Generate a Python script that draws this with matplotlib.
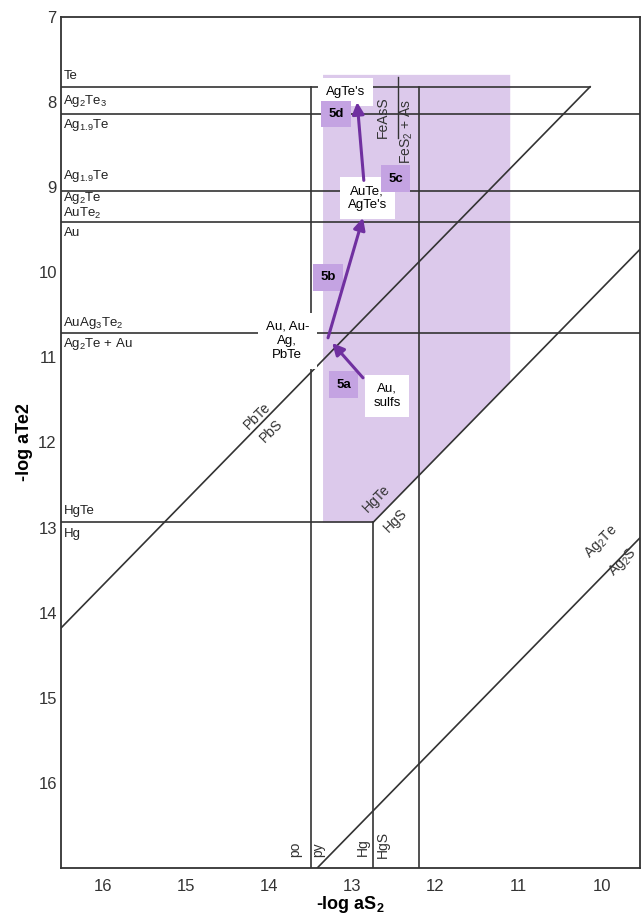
import matplotlib.pyplot as plt
from matplotlib.patches import Polygon

plt.rcParams["font.family"] = ["Liberation Sans", "DejaVu Sans"]
plt.rcParams["mathtext.default"] = "regular"

# axis extents (-log aS2 runs right to left, -log aTe2 top to bottom)
x_range = (16.5, 9.54)
y_range = (17.0, 7.0)
x_ticks = [16, 15, 14, 13, 12, 11, 10]
y_ticks = [7, 8, 9, 10, 11, 12, 13, 14, 15, 16]

# horizontal tellurium reactions: level, x start, x end
h_levels = [7.82, 8.14, 9.04, 9.405, 10.71, 12.94]
h_x0 = [16.5, 16.5, 16.5, 16.5, 16.5, 16.5]
h_x1 = [10.14, 9.54, 9.54, 9.54, 9.54, 12.75]

# vertical sulfur reactions: position, y top, y bottom
v_pos = [13.49, 12.75, 12.2]
v_y0 = [7.82, 12.94, 7.82]
v_y1 = [17.0, 17.0, 17.0]

# sloped sulfide/telluride reactions: (x0, y0) -> (x1, y1)
d_x0 = [16.5, 12.75, 13.42]
d_y0 = [14.18, 12.94, 17.0]
d_x1 = [10.14, 9.54, 9.54]
d_y1 = [7.82, 9.73, 13.12]

# left-hand phase labels
phase_labels = ["Te", "Ag$_2$Te$_3$", "Ag$_{1.9}$Te", "Ag$_{1.9}$Te", "Ag$_2$Te",
                "AuTe$_2$", "Au", "AuAg$_3$Te$_2$", "Ag$_2$Te + Au", "HgTe", "Hg"]
phase_y = [7.69, 7.99, 8.27, 8.87, 9.13, 9.31, 9.54, 10.59, 10.84, 12.81, 13.07]

# fluid evolution field
field_x = [13.35, 11.1, 11.1, 12.75, 13.35]
field_y = [7.68, 7.68, 11.29, 12.94, 12.94]

# stage arrows
stage_x0 = [12.87, 13.29, 12.86]
stage_y0 = [11.24, 10.77, 8.92]
stage_x1 = [13.24, 12.87, 12.94]
stage_y1 = [10.83, 9.36, 8.00]

stage_names = ["5a", "5b", "5c", "5d"]
stage_lx = [13.10, 13.29, 12.48, 13.19]
stage_ly = [11.32, 10.06, 8.90, 8.14]

assemblages = ["Au,\nsulfs", "Au, Au-\nAg,\nPbTe", "AuTe,\nAgTe's", "AgTe's"]
assem_x = [12.58, 13.78, 12.82, 13.08]
assem_y = [11.45, 10.81, 9.13, 7.88]

line_col = "#333333"
field_col = "#dcc9eb"
tag_col = "#c4a3e2"
arrow_col = "#7030a0"

fig = plt.figure(figsize=(6.41, 9.18), dpi=100)
ax = fig.add_axes([61 / 641, 50 / 918, 579 / 641, 851 / 918])
ax.set_xlim(*x_range)
ax.set_ylim(*y_range)

ax.add_patch(Polygon(list(zip(field_x, field_y)), closed=True,
                     facecolor=field_col, edgecolor="none", zorder=0))

for y, a, b in zip(h_levels, h_x0, h_x1):
    ax.plot([a, b], [y, y], color=line_col, lw=1.2, zorder=2)
for x, a, b in zip(v_pos, v_y0, v_y1):
    ax.plot([x, x], [a, b], color=line_col, lw=1.2, zorder=2)
for xa, ya, xb, yb in zip(d_x0, d_y0, d_x1, d_y1):
    ax.plot([xa, xb], [ya, yb], color=line_col, lw=1.2, zorder=2)

for lab, y in zip(phase_labels, phase_y):
    ax.text(16.47, y, lab, fontsize=9.5, color="#222222", ha="left", va="center")

# reaction labels along the sloped and vertical boundaries
rot_kw = dict(fontsize=10, color="#333333", ha="center", va="center")
ax.text(14.14, 11.69, "PbTe", rotation=45, **rot_kw)
ax.text(13.97, 11.86, "PbS", rotation=45, **rot_kw)
ax.text(12.71, 12.66, "HgTe", rotation=45, **rot_kw)
ax.text(12.48, 12.92, "HgS", rotation=45, **rot_kw)
ax.text(10.00, 13.16, "Ag$_2$Te", rotation=45, **rot_kw)
ax.text(9.75, 13.40, "Ag$_2$S", rotation=45, **rot_kw)
ax.text(12.63, 8.18, "FeAsS", rotation=90, **rot_kw)
ax.text(12.34, 8.35, "FeS$_2$ + As", rotation=90, **rot_kw)
ax.plot([12.45, 12.45], [7.70, 8.42], color=line_col, lw=1.0, zorder=2)
ax.text(13.68, 16.78, "po", rotation=90, **rot_kw)
ax.text(13.41, 16.78, "py", rotation=90, **rot_kw)
ax.text(12.87, 16.76, "Hg", rotation=90, **rot_kw)
ax.text(12.63, 16.72, "HgS", rotation=90, **rot_kw)

for lab, x, y in zip(assemblages, assem_x, assem_y):
    ax.text(x, y, lab, fontsize=9.5, ha="center", va="center", zorder=3,
            linespacing=1.25,
            bbox=dict(boxstyle="square,pad=0.6", facecolor="white",
                      edgecolor="none"))

for lab, x, y in zip(stage_names, stage_lx, stage_ly):
    ax.text(x, y, lab, fontsize=9.5, fontweight="bold", ha="center",
            va="center", zorder=3,
            bbox=dict(boxstyle="square,pad=0.55", facecolor=tag_col,
                      edgecolor="none"))

for xa, ya, xb, yb in zip(stage_x0, stage_y0, stage_x1, stage_y1):
    ax.annotate("", xy=(xb, yb), xytext=(xa, ya), zorder=4,
                arrowprops=dict(arrowstyle="-|>,head_length=0.7,head_width=0.35",
                                color=arrow_col, lw=2.2, shrinkA=0, shrinkB=0))

ax.set_xticks(x_ticks)
ax.set_yticks(y_ticks)
ax.tick_params(length=0, labelsize=12, labelcolor="#333333")
ax.tick_params(axis="x", pad=8)
ax.tick_params(axis="y", pad=3)
for sp in ax.spines.values():
    sp.set_color(line_col)
    sp.set_linewidth(1.3)

ax.set_xlabel("-log aS$_2$", fontsize=13, fontweight="bold", labelpad=0)
ax.set_ylabel("-log aTe2", fontsize=13, fontweight="bold", labelpad=4)

fig.savefig("out.png", dpi=100)
